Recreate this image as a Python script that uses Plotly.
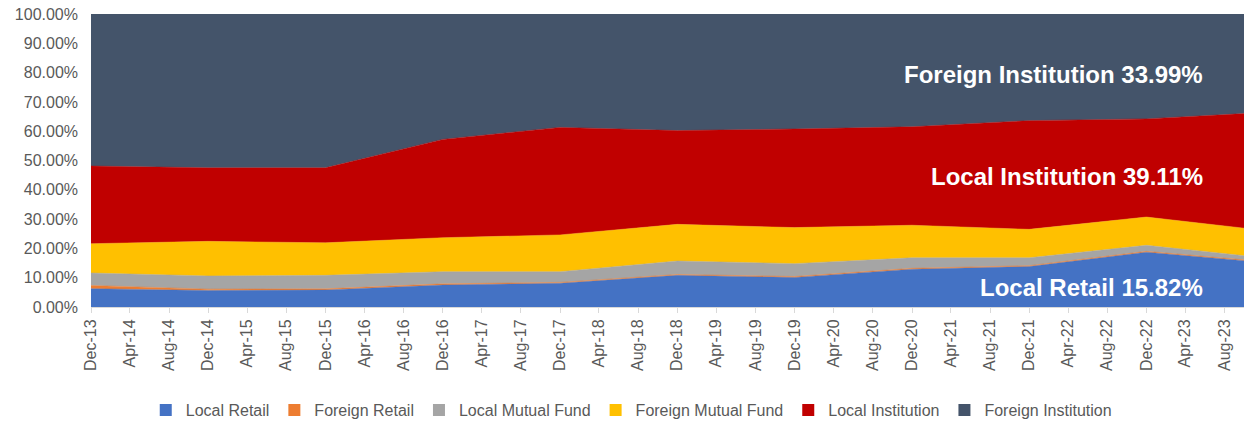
import plotly.graph_objects as go

dates = ["2013-12-01", "2014-12-01", "2015-12-01", "2016-12-01", "2017-12-01",
         "2018-12-01", "2019-12-01", "2020-12-01", "2021-12-01", "2022-12-01", "2023-10-01"]

local_retail = [6.25, 5.6, 5.8, 7.5, 8.1, 10.8, 10.1, 12.9, 13.8, 18.7, 15.82]
foreign_retail = [1.1, 0.5, 0.4, 0.4, 0.3, 0.3, 0.3, 0.3, 0.3, 0.3, 0.28]
local_mf = [4.25, 4.5, 4.6, 4.15, 3.65, 4.6, 4.4, 3.6, 2.7, 2.05, 1.42]
foreign_mf = [10.0, 11.8, 11.1, 11.6, 12.55, 12.5, 12.3, 11.1, 9.7, 9.65, 9.38]
local_inst = [26.5, 25.1, 25.6, 33.55, 36.7, 32.0, 33.65, 33.6, 37.1, 33.5, 39.11]
foreign_inst = [51.9, 52.5, 52.5, 42.8, 38.7, 39.8, 39.25, 38.5, 36.4, 35.8, 33.99]

series = [
    ("Local Retail", local_retail, "#4472C4"),
    ("Foreign Retail", foreign_retail, "#ED7D31"),
    ("Local Mutual Fund", local_mf, "#A5A5A5"),
    ("Foreign Mutual Fund", foreign_mf, "#FFC000"),
    ("Local Institution", local_inst, "#C00000"),
    ("Foreign Institution", foreign_inst, "#44546A"),
]

tick_vals = ["2013-12-01", "2014-04-01", "2014-08-01", "2014-12-01", "2015-04-01", "2015-08-01",
             "2015-12-01", "2016-04-01", "2016-08-01", "2016-12-01", "2017-04-01", "2017-08-01",
             "2017-12-01", "2018-04-01", "2018-08-01", "2018-12-01", "2019-04-01", "2019-08-01",
             "2019-12-01", "2020-04-01", "2020-08-01", "2020-12-01", "2021-04-01", "2021-08-01",
             "2021-12-01", "2022-04-01", "2022-08-01", "2022-12-01", "2023-04-01", "2023-08-01"]

labels = [
    ("Foreign Institution 33.99%", 79.5),
    ("Local Institution 39.11%", 44.4),
    ("Local Retail 15.82%", 6.5),
]

FONT = "Liberation Sans, Arial, Helvetica, sans-serif"

fig = go.Figure()
for name, vals, color in series:
    fig.add_trace(go.Scatter(
        x=dates, y=vals, name=name, mode="lines", stackgroup="one", groupnorm="percent",
        line=dict(width=0.5, color=color), fillcolor=color, showlegend=False,
        hoverinfo="skip",
    ))
for name, vals, color in series:
    fig.add_trace(go.Scatter(
        x=[None], y=[None], name=name, mode="markers",
        marker=dict(symbol="square", size=12, color=color),
        showlegend=True,
    ))

for text, yv in labels:
    fig.add_annotation(
        text=text, xref="paper", x=0.966, xanchor="right", yref="y", y=yv,
        yanchor="middle", showarrow=False,
        font=dict(family=FONT, size=24, color="white", weight="bold"),
    )

fig.update_layout(
    width=1250, height=422,
    margin=dict(l=91, r=6, t=14, b=115),
    paper_bgcolor="white", plot_bgcolor="white",
    font=dict(family=FONT, size=16, color="#595959"),
    showlegend=True,
    legend=dict(orientation="h", xref="container", x=0.505, xanchor="center",
                yref="container", y=0.028, yanchor="middle", traceorder="normal",
                font=dict(family=FONT, size=16, color="#595959"),
                itemwidth=30, tracegroupgap=0),
    xaxis=dict(type="date", range=["2013-12-01", "2023-10-01"], automargin=False,
               tickmode="array", tickvals=tick_vals, tickformat="%b-%y",
               tickangle=-90, ticks="outside", ticklen=5, tickcolor="#d9d9d9",
               showline=True, linecolor="#d9d9d9", linewidth=1,
               showgrid=False, zeroline=False,
               tickfont=dict(family=FONT, size=16, color="#595959")),
    yaxis=dict(range=[0, 100], tickmode="linear", tick0=0, dtick=10, automargin=False,
               tickformat=".2f", ticksuffix="%", showgrid=True, gridcolor="#d9d9d9",
               zeroline=False, showline=False, ticks="", ticklabelstandoff=12,
               tickfont=dict(family=FONT, size=16, color="#595959")),
)

fig.write_html("out.html", config={"displayModeBar": False},
               post_script="document.body.style.margin='0';document.body.style.overflow='hidden';")
